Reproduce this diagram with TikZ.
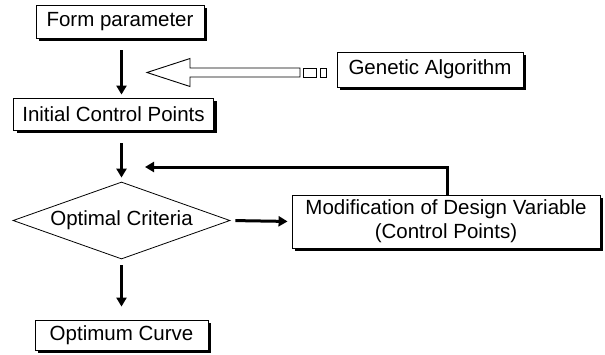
\documentclass[tikz,border=0pt]{standalone}
\usepackage{fontspec}
\setmainfont{Liberation Sans}
\usetikzlibrary{shapes.geometric,shadows,arrows.meta}
\begin{document}
\begin{tikzpicture}[x=1pt,y=-1pt,
  txt/.style={font=\fontsize{20.5}{24}\selectfont},
  box/.style={txt, draw, line width=0.9pt, fill=white, rectangle, inner sep=0pt,
    drop shadow={shadow xshift=3pt, shadow yshift=-3pt, fill=black, opacity=1}},
  decision/.style={txt, draw, line width=0.8pt, fill=white, diamond, inner sep=0pt, aspect=2.82,
    minimum width=217pt, minimum height=77pt},
  arr/.style={line width=3pt, -{Triangle[length=9pt,width=10pt]}},
  hollow/.style={draw, line width=0.9pt, fill=white},
  tiny/.style={draw, line width=0.9pt}
]
\useasboundingbox[fill=white] (0,0) rectangle (605,354);

\node[box, minimum width=168pt, minimum height=33pt] (fp) at (120,21.5) {Form parameter};
\node[box, minimum width=200pt, minimum height=32pt] (icp) at (113.5,114) {Initial Control Points};
\node[box, minimum width=186pt, minimum height=35pt] (ga) at (430,69.5) {Genetic Algorithm};
\node[decision] (dia) at (121.5,220.5) {Optimal Criteria};
\node[box, minimum width=308pt, minimum height=53pt, align=center] (mod) at (446,221.5)
  {Modification of Design Variable\\(Control Points)};
\node[box, minimum width=173pt, minimum height=30pt] (oc) at (121.5,335) {Optimum Curve};

\coordinate (fb) at (145,167);

\draw[arr, shorten <=12pt, shorten >=3pt] (fp.south -| dia.north) -- (icp.north -| dia.north);
\draw[arr, shorten <=13pt, shorten >=4pt] (icp.south -| dia.north) -- (dia.north);
\draw[arr, shorten <=6pt, shorten >=13pt] (dia.south) -- (oc.north);
\draw[arr, shorten <=5pt, shorten >=4pt] (dia.east) -- (mod.west);
\draw[arr] ([xshift=1pt]mod.north) |- (fb);

% hollow arrow from Genetic Algorithm
\coordinate (tip) at (147,72.5);
\draw[hollow] (tip) -- (190,58.5) -- (190,68) -- (300,68) -- (300,77) -- (190,77) -- (190,86.5) -- cycle;
\draw[tiny] (303.5,68) rectangle (316.5,77);
\draw[tiny] (320.5,68) rectangle (326,77);
\end{tikzpicture}
\end{document}
